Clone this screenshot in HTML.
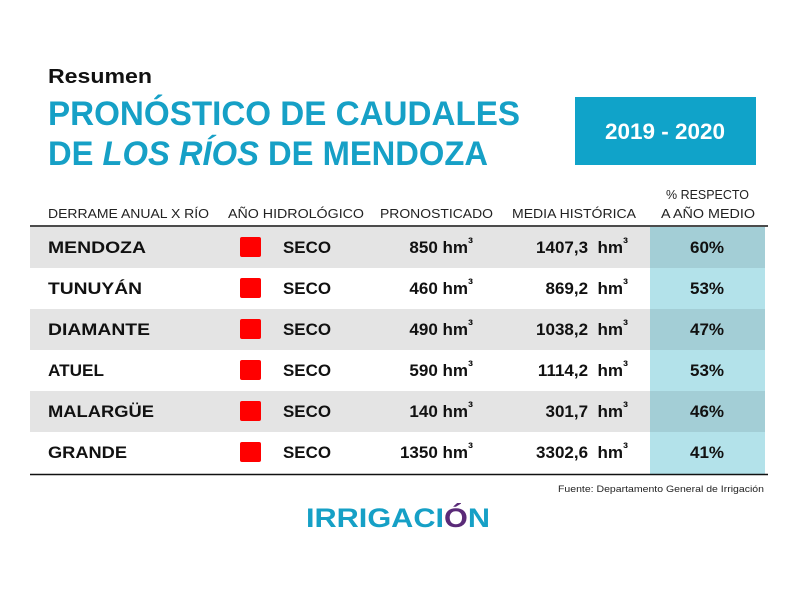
<!DOCTYPE html>
<html><head><meta charset="utf-8"><style>
html,body{margin:0;padding:0;background:#fff;}
svg{display:block;font-family:"Liberation Sans",sans-serif;}
</style></head><body>
<svg width="800" height="595" viewBox="0 0 800 595" xmlns="http://www.w3.org/2000/svg">
<rect width="800" height="595" fill="#fff"/>
<text x="48" y="83" font-size="20" font-weight="bold" fill="#111" textLength="104" lengthAdjust="spacingAndGlyphs">Resumen</text>
<text x="48" y="125" font-size="34" font-weight="bold" fill="#16a0c6" textLength="472" lengthAdjust="spacingAndGlyphs">PRONÓSTICO DE CAUDALES</text>
<text x="48" y="165" font-size="34" font-weight="bold" fill="#16a0c6" textLength="440" lengthAdjust="spacingAndGlyphs">DE <tspan font-style="italic">LOS RÍOS</tspan> DE MENDOZA</text>
<rect x="575" y="97" width="181" height="68" fill="#10a3c9"/>
<text x="665" y="139" font-size="22" font-weight="bold" fill="#fff" text-anchor="middle" textLength="120" lengthAdjust="spacingAndGlyphs">2019 - 2020</text>
<g font-size="13" fill="#222">
<text x="48" y="218" textLength="161" lengthAdjust="spacingAndGlyphs">DERRAME ANUAL X RÍO</text>
<text x="228" y="218" textLength="136" lengthAdjust="spacingAndGlyphs">AÑO HIDROLÓGICO</text>
<text x="380" y="218" textLength="113" lengthAdjust="spacingAndGlyphs">PRONOSTICADO</text>
<text x="512" y="218" textLength="124" lengthAdjust="spacingAndGlyphs">MEDIA HISTÓRICA</text>
<text x="666" y="199" textLength="83" lengthAdjust="spacingAndGlyphs">% RESPECTO</text>
<text x="661" y="218" textLength="94" lengthAdjust="spacingAndGlyphs">A AÑO MEDIO</text>
</g>
<rect x="30" y="227" width="620" height="41" fill="#e4e4e4"/>
<rect x="30" y="309" width="620" height="41" fill="#e4e4e4"/>
<rect x="30" y="391" width="620" height="41" fill="#e4e4e4"/>
<rect x="650" y="227" width="115" height="247" fill="#b3e2ea"/>
<rect x="650" y="227" width="115" height="41" fill="#a3ced6"/>
<rect x="650" y="309" width="115" height="41" fill="#a3ced6"/>
<rect x="650" y="391" width="115" height="41" fill="#a3ced6"/>
<line x1="30" y1="226" x2="768" y2="226" stroke="#111" stroke-width="1.5"/>
<line x1="30" y1="474.5" x2="768" y2="474.5" stroke="#111" stroke-width="1.5"/>
<g fill="#ff0000">
<rect x="240" y="237" width="21" height="20" rx="2"/>
<rect x="240" y="278" width="21" height="20" rx="2"/>
<rect x="240" y="319" width="21" height="20" rx="2"/>
<rect x="240" y="360" width="21" height="20" rx="2"/>
<rect x="240" y="401" width="21" height="20" rx="2"/>
<rect x="240" y="442" width="21" height="20" rx="2"/>
</g>
<g font-size="17" font-weight="bold" fill="#111">
<text x="48" y="253" textLength="98" lengthAdjust="spacingAndGlyphs">MENDOZA</text>
<text x="48" y="294" textLength="94" lengthAdjust="spacingAndGlyphs">TUNUYÁN</text>
<text x="48" y="335" textLength="102" lengthAdjust="spacingAndGlyphs">DIAMANTE</text>
<text x="48" y="376" textLength="56" lengthAdjust="spacingAndGlyphs">ATUEL</text>
<text x="48" y="417" textLength="106" lengthAdjust="spacingAndGlyphs">MALARGÜE</text>
<text x="48" y="458" textLength="79" lengthAdjust="spacingAndGlyphs">GRANDE</text>
<g>
<text x="283" y="253" textLength="48" lengthAdjust="spacingAndGlyphs">SECO</text>
<text x="283" y="294" textLength="48" lengthAdjust="spacingAndGlyphs">SECO</text>
<text x="283" y="335" textLength="48" lengthAdjust="spacingAndGlyphs">SECO</text>
<text x="283" y="376" textLength="48" lengthAdjust="spacingAndGlyphs">SECO</text>
<text x="283" y="417" textLength="48" lengthAdjust="spacingAndGlyphs">SECO</text>
<text x="283" y="458" textLength="48" lengthAdjust="spacingAndGlyphs">SECO</text>
</g>
<g text-anchor="end">
<text x="473" y="253">850 hm<tspan font-size="15" dy="-5">³</tspan></text>
<text x="473" y="294">460 hm<tspan font-size="15" dy="-5">³</tspan></text>
<text x="473" y="335">490 hm<tspan font-size="15" dy="-5">³</tspan></text>
<text x="473" y="376">590 hm<tspan font-size="15" dy="-5">³</tspan></text>
<text x="473" y="417">140 hm<tspan font-size="15" dy="-5">³</tspan></text>
<text x="473" y="458">1350 hm<tspan font-size="15" dy="-5">³</tspan></text>
<text x="628" y="253">1407,3&#160; hm<tspan font-size="15" dy="-5">³</tspan></text>
<text x="628" y="294">869,2&#160; hm<tspan font-size="15" dy="-5">³</tspan></text>
<text x="628" y="335">1038,2&#160; hm<tspan font-size="15" dy="-5">³</tspan></text>
<text x="628" y="376">1114,2&#160; hm<tspan font-size="15" dy="-5">³</tspan></text>
<text x="628" y="417">301,7&#160; hm<tspan font-size="15" dy="-5">³</tspan></text>
<text x="628" y="458">3302,6&#160; hm<tspan font-size="15" dy="-5">³</tspan></text>
</g>
<g text-anchor="middle">
<text x="707" y="253">60%</text>
<text x="707" y="294">53%</text>
<text x="707" y="335">47%</text>
<text x="707" y="376">53%</text>
<text x="707" y="417">46%</text>
<text x="707" y="458">41%</text>
</g>
</g>
<text x="764" y="492" font-size="9.5" fill="#222" text-anchor="end" textLength="206" lengthAdjust="spacingAndGlyphs">Fuente: Departamento General de Irrigación</text>
<text x="306" y="527" font-size="27" font-weight="bold" fill="#16a0c6" textLength="184" lengthAdjust="spacingAndGlyphs">IRRIGACI<tspan fill="#5a2a78">Ó</tspan>N</text>
</svg>
</body></html>
